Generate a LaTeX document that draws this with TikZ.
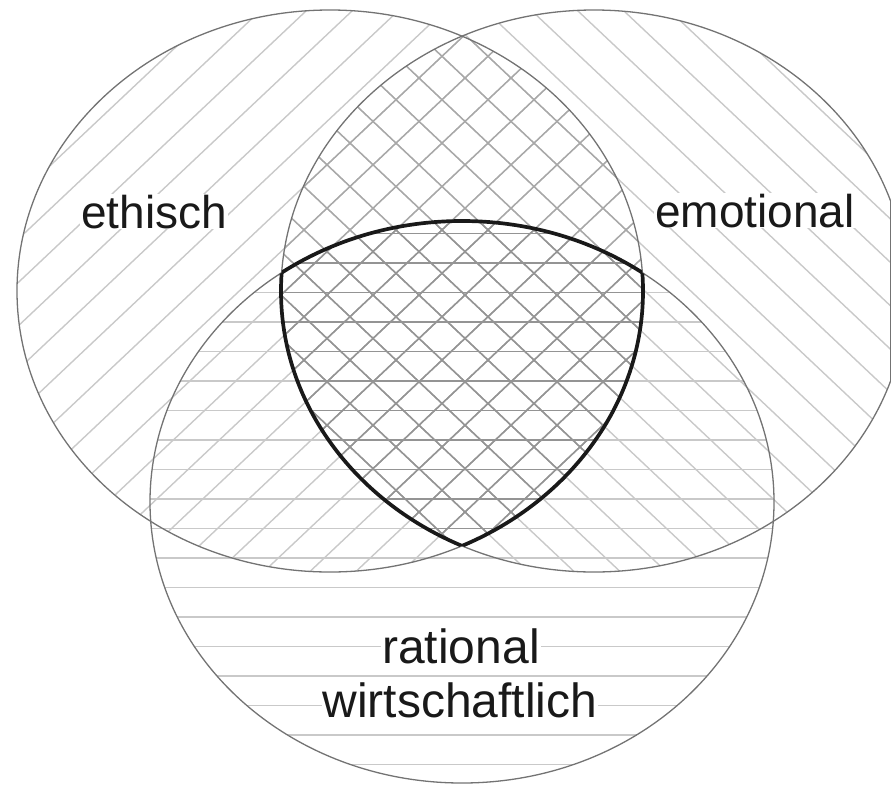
\documentclass[tikz,border=0pt]{standalone}
\usepackage{fontspec}
\setmainfont{Liberation Sans}
\newcommand\clipL{\clip (330,291) ellipse [x radius=313pt, y radius=281pt];}
\newcommand\clipR{\clip (594,291) ellipse [x radius=313pt, y radius=281pt];}
\newcommand\clipB{\clip (462,502) ellipse [x radius=312pt, y radius=281pt];}
\newcommand\fwdlines[1]{\foreach \j in {-24,...,24} {\draw[#1] (465+46*\j-690, 946) -- (465+46*\j+690, -356);}}
\newcommand\backlines[1]{\foreach \j in {-24,...,24} {\draw[#1] (465+46*\j-690, -356) -- (465+46*\j+690, 946);}}
\newcommand\horlines[1]{\foreach \k in {-8,...,12} {\draw[#1] (0, 440+29.5*\k) -- (891, 440+29.5*\k);}}
\begin{document}
\begin{tikzpicture}[x=1pt, y=-1pt,
  hlight/.style={draw=black!21, line width=1.4pt},
  hmid/.style={draw=black!34, line width=1.4pt},
  hdark/.style={draw=black!42, line width=1.4pt},
  outline/.style={draw=black!55, line width=1.3pt},
  core/.style={draw=black!90, line width=3.7pt},
  lbl/.style={fill=white, inner sep=1pt, anchor=base, text=black!90, font=\fontsize{46}{52}\selectfont},
  lblb/.style={lbl, font=\fontsize{48}{54}\selectfont}]
\useasboundingbox (0,0) rectangle (891,785);
\clip (0,0) rectangle (891,785);
% single hatching
\begin{scope}\clipL \fwdlines{hlight}\end{scope}
\begin{scope}\clipR \backlines{hlight}\end{scope}
\begin{scope}\clipB \horlines{hlight}\end{scope}
% left-right overlap
\begin{scope}\clipL \clipR \fwdlines{hmid}\backlines{hmid}\end{scope}
% triple overlap
\begin{scope}\clipL \clipR \clipB \fwdlines{hdark}\backlines{hdark}\horlines{hdark}\end{scope}
% outlines
\draw[outline] (330,291) ellipse [x radius=313pt, y radius=281pt];
\draw[outline] (594,291) ellipse [x radius=313pt, y radius=281pt];
\draw[outline] (462,502) ellipse [x radius=312pt, y radius=281pt];
\draw[outline] (890.3,200) -- (890.3,382);
% core region boundary
\begin{scope}\clipL \clipR \draw[core] (462,502) ellipse [x radius=312pt, y radius=281pt];\end{scope}
\begin{scope}\clipL \clipB \draw[core] (594,291) ellipse [x radius=313pt, y radius=281pt];\end{scope}
\begin{scope}\clipR \clipB \draw[core] (330,291) ellipse [x radius=313pt, y radius=281pt];\end{scope}
% labels
\node[lbl] (eth) at (154,228) {ethisch};
\node[lbl] (emo) at (755,227) {emotional};
\node[lblb] (rat) at (461,663) {rational};
\node[lblb] (wir) at (460,717) {wirtschaftlich};
\end{tikzpicture}
\end{document}
